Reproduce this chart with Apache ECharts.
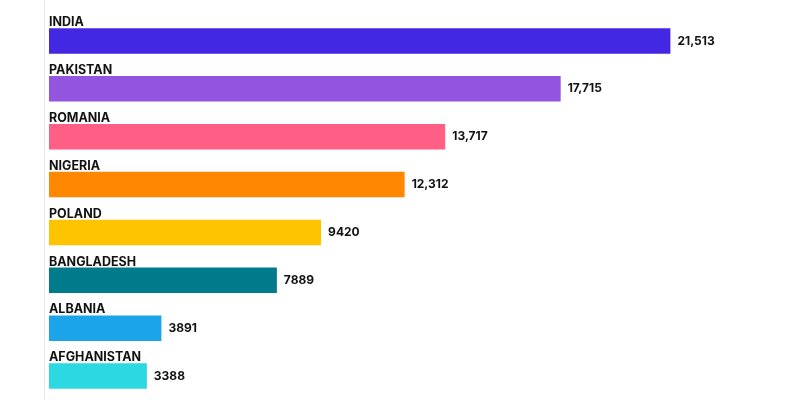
<!DOCTYPE html>
<html>
<head>
<meta charset="utf-8">
<script src="https://cdn.jsdelivr.net/npm/echarts@6/dist/echarts.min.js"></script>
<style>
  html, body { margin: 0; padding: 0; background: #fff; }
  #chart { width: 800px; height: 400px; }
</style>
</head>
<body>
<div id="chart"></div>
<script>
const countries = ["INDIA", "PAKISTAN", "ROMANIA", "NIGERIA", "POLAND", "BANGLADESH", "ALBANIA", "AFGHANISTAN"];
const values = [21513, 17715, 13717, 12312, 9420, 7889, 3891, 3388];
const valueLabels = ["21,513", "17,715", "13,717", "12,312", "9420", "7889", "3891", "3388"];
const colors = ["#4328e3", "#9354e0", "#ff5f85", "#ff8800", "#ffc400", "#007b8b", "#1ca4ea", "#2cd9e3"];

const chart = echarts.init(document.getElementById("chart"));

chart.setOption({
  animation: false,
  grid: { left: 49, top: 17, width: 751, height: 386 },
  xAxis: {
    type: "value",
    min: 0,
    max: 26000,
    show: false
  },
  yAxis: {
    type: "category",
    data: countries,
    inverse: true,
    axisLine: { show: false },
    axisTick: { show: false },
    axisLabel: {
      inside: true,
      margin: 0,
      align: "left",
      verticalAlign: "bottom",
      padding: [0, 0, 12, 0],
      color: "#111",
      fontFamily: "Inter",
      fontWeight: 700,
      fontSize: 12.5
    }
  },
  graphic: [{
    type: "line",
    shape: { x1: 44.5, y1: 0, x2: 44.5, y2: 400 },
    style: { stroke: "#e6e6e6", lineWidth: 1 }
  }],
  series: [{
    type: "bar",
    barWidth: 25.5,
    data: values.map((v, i) => ({ value: v, itemStyle: { color: colors[i] } })),
    label: {
      show: true,
      position: "right",
      distance: 7,
      formatter: p => valueLabels[p.dataIndex],
      color: "#111",
      fontFamily: "Inter",
      fontWeight: 700,
      fontSize: 12
    }
  }]
});
</script>
</body>
</html>
